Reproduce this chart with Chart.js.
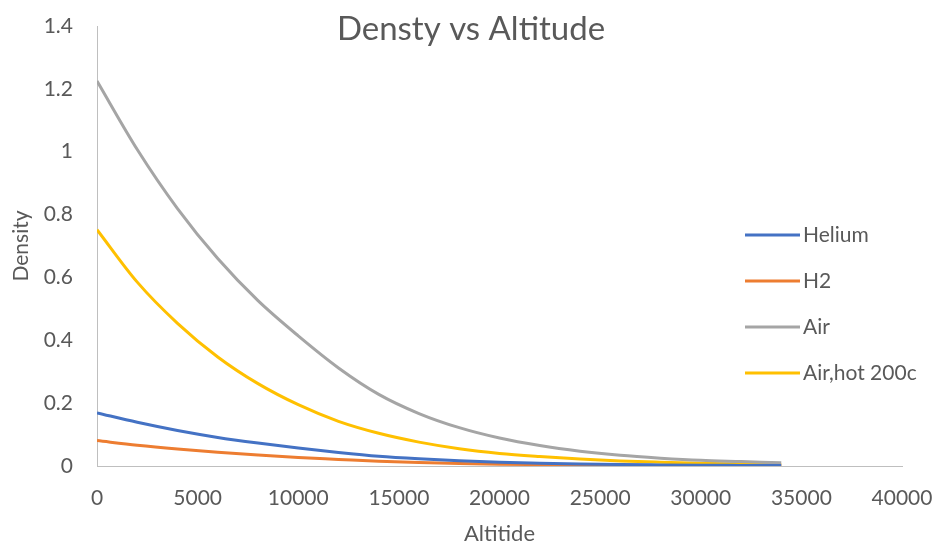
<!DOCTYPE html>
<html>
<head>
<meta charset="utf-8">
<title>Densty vs Altitude</title>
<script src="https://cdn.jsdelivr.net/npm/chart.js@4.4.0/dist/chart.umd.min.js"></script>
<style>
    body { margin: 0; background: #fff; }
    #wrap { width: 935px; height: 547px; }
</style>
</head>
<body>
<div id="wrap"><canvas id="densityChart" width="935" height="547"></canvas></div>
<script>
// altitud (m) y densidades (kg/m3)
const altitudes = [0, 2000, 4000, 6000, 8000, 10000, 12000, 14000, 16000, 18000, 20000, 22000, 24000, 26000, 28000, 30000, 32000, 34000];
const helium = [0.169, 0.139, 0.113, 0.091, 0.073, 0.057, 0.043, 0.031, 0.023, 0.017, 0.012, 0.009, 0.0065, 0.0047, 0.0035, 0.0025, 0.0019, 0.0014];
const h2 = [0.081, 0.066, 0.054, 0.044, 0.035, 0.027, 0.021, 0.015, 0.011, 0.008, 0.0059, 0.0043, 0.0031, 0.0023, 0.0017, 0.0012, 0.0009, 0.0007];
const air = [1.225, 1.007, 0.819, 0.660, 0.526, 0.414, 0.312, 0.228, 0.167, 0.122, 0.089, 0.065, 0.047, 0.034, 0.025, 0.018, 0.014, 0.010];
const hotAir = [0.752, 0.585, 0.454, 0.347, 0.262, 0.195, 0.142, 0.104, 0.076, 0.055, 0.040, 0.030, 0.022, 0.016, 0.012, 0.0088, 0.0065, 0.0049];

const seriesNames = ["Helium", "H2", "Air", "Air,hot 200c"];
const seriesColors = ["#4472C4", "#ED7D31", "#A5A5A5", "#FFC000"];
const xTicks = [0, 5000, 10000, 15000, 20000, 25000, 30000, 35000, 40000];
const yTicks = [0, 0.2, 0.4, 0.6, 0.8, 1, 1.2, 1.4];

const chartTitle = "Densty vs Altitude";
const xTitle = "Altitide";
const yTitle = "Density";

const textColor = "#595959";
const fontFamily = "Lato, 'Open Sans', sans-serif";

function puntos(valores) {
    return altitudes.map((a, i) => ({ x: a, y: valores[i] }));
}

// Titulo dibujado encima del area del grafico (como en Excel)
const tituloPlugin = {
    id: "tituloPlugin",
    afterDraw(chart) {
        const ctx = chart.ctx;
        ctx.save();
        ctx.font = "33px " + fontFamily;
        ctx.fillStyle = textColor;
        ctx.textAlign = "center";
        ctx.textBaseline = "middle";
        ctx.fillText(chartTitle, 471, 29);
        ctx.restore();
    }
};

// Leyenda flotante a la derecha, sobre el area del grafico
const leyendaPlugin = {
    id: "leyendaPlugin",
    afterDraw(chart) {
        const ctx = chart.ctx;
        ctx.save();
        ctx.font = "21px " + fontFamily;
        ctx.textBaseline = "middle";
        ctx.textAlign = "left";
        chart.data.datasets.forEach((ds, i) => {
            const y = 235 + i * 46;
            ctx.strokeStyle = ds.borderColor;
            ctx.lineWidth = 3;
            ctx.beginPath();
            ctx.moveTo(745, y);
            ctx.lineTo(800, y);
            ctx.stroke();
            ctx.fillStyle = textColor;
            ctx.fillText(ds.label, 803, y);
        });
        ctx.restore();
    }
};

const datasets = [helium, h2, air, hotAir].map((vals, i) => ({
    label: seriesNames[i],
    data: puntos(vals),
    borderColor: seriesColors[i],
    backgroundColor: seriesColors[i],
    borderWidth: 3,
    pointRadius: 0,
    cubicInterpolationMode: "monotone",
    fill: false
}));

const ctx = document.getElementById("densityChart").getContext("2d");
const densityChart = new Chart(ctx, {
    type: "line",
    data: { datasets: datasets },
    options: {
        responsive: false,
        animation: false,
        layout: { padding: { top: 26, right: 33, left: 0, bottom: 0 } },
        plugins: {
            legend: { display: false },
            title: { display: false },
            tooltip: { enabled: false }
        },
        scales: {
            x: {
                type: "linear",
                min: 0,
                max: 40000,
                afterBuildTicks: (axis) => { axis.ticks = xTicks.map(v => ({ value: v })); },
                afterFit: (axis) => {
                    axis.height = 81;
                    axis.paddingLeft = 0;
                    axis.paddingRight = 0;
                },
                grid: { display: false, drawTicks: false },
                border: { display: true, color: "#BFBFBF", width: 1 },
                ticks: {
                    color: textColor,
                    font: { family: fontFamily, size: 21 },
                    padding: 20,
                    maxRotation: 0,
                    callback: (v) => String(v)
                },
                title: {
                    display: true,
                    text: xTitle,
                    color: textColor,
                    font: { family: fontFamily, size: 22 },
                    padding: { top: 0, bottom: 0 }
                }
            },
            y: {
                min: 0,
                max: 1.4,
                afterBuildTicks: (axis) => { axis.ticks = yTicks.map(v => ({ value: v })); },
                afterFit: (axis) => {
                    axis.width = 97;
                    axis.paddingTop = 0;
                    axis.paddingBottom = 0;
                },
                grid: { display: false, drawTicks: false },
                border: { display: true, color: "#BFBFBF", width: 1 },
                ticks: {
                    color: textColor,
                    font: { family: fontFamily, size: 21 },
                    padding: 24,
                    callback: (v) => String(Math.round(v * 10) / 10)
                },
                title: {
                    display: true,
                    text: yTitle,
                    color: textColor,
                    font: { family: fontFamily, size: 21 },
                    padding: { top: 9, bottom: 0 }
                }
            }
        }
    },
    plugins: [tituloPlugin, leyendaPlugin]
});
</script>
</body>
</html>
